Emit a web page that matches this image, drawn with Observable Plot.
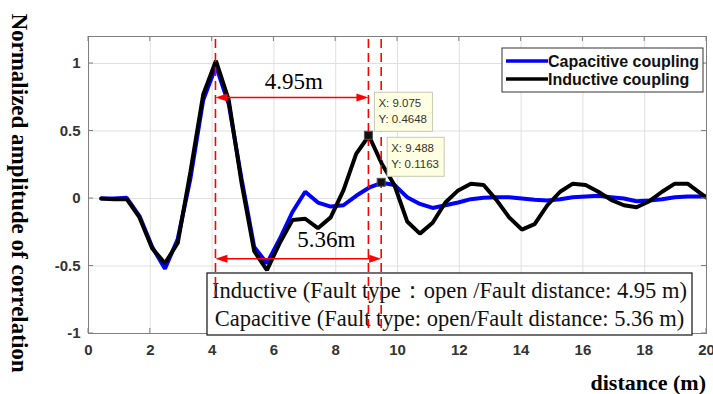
<!DOCTYPE html>
<html><head><meta charset="utf-8">
<script src="https://cdn.jsdelivr.net/npm/d3@7"></script>
<script src="https://cdn.jsdelivr.net/npm/@observablehq/plot@0.6"></script>
<style>html,body{margin:0;padding:0;background:#fff}svg{display:block}</style>
</head><body><div id="chart"></div>
<script>
// ---- data ----
const sampleStep = 0.4125; // sampling interval of the correlation (m)
const inductive = [0, -0.005, -0.005, -0.14, -0.37, -0.48, -0.33, 0.2, 0.77, 1.02, 0.73, 0.12, -0.39, -0.53, -0.33, -0.16, -0.15, -0.22, -0.14, 0.06, 0.33, 0.4648, 0.26, 0.1, -0.17, -0.26, -0.18, -0.03, 0.06, 0.11, 0.1, -0.01, -0.14, -0.23, -0.19, -0.05, 0.05, 0.11, 0.1, 0.05, -0.01, -0.05, -0.065, -0.02, 0.05, 0.11, 0.11, 0.04, -0.03];
const capacitive = [0, 0, 0.005, -0.13, -0.36, -0.52, -0.3, 0.15, 0.73, 0.98, 0.7, 0.15, -0.36, -0.48, -0.3, -0.1, 0.05, -0.03, -0.06, -0.05, 0.02, 0.08, 0.1163, 0.1, 0.01, -0.04, -0.07, -0.05, -0.03, -0.005, 0.005, 0.01, 0.01, 0, -0.01, -0.015, -0.005, 0.01, 0.015, 0.02, 0.01, 0, -0.02, -0.015, -0.005, 0.01, 0.015, 0.015, 0.015];
const seriesNames = ["Capacitive coupling", "Inductive coupling"];
const seriesColors = ["#0000ff", "#000000"];
const xTicks = [0, 2, 4, 6, 8, 10, 12, 14, 16, 18, 20];
const yTicks = [-1, -0.5, 0, 0.5, 1];
const yTickLabels = ["-1", "-0.5", "0", "0.5", "1"];
const refPeakX = 4.125;
const dataTipX = [9.075, 9.488];
const dataTipY = [0.4648, 0.1163];
const faultDistanceLabels = ["4.95m", "5.36m"];
const infoLines = ["Inductive (Fault type\uFF1Aopen /Fault distance: 4.95 m)", "Capacitive (Fault type: open/Fault distance: 5.36 m)"];
const xLabel = "distance (m)";
const yLabel = "Normalized amplitude of correlation";

// ---- build ----
const W = 713, H = 394;
const rows = [];
capacitive.forEach((v, i) => rows.push({s: seriesNames[0], x: (i + 1) * sampleStep, y: v}));
inductive.forEach((v, i) => rows.push({s: seriesNames[1], x: (i + 1) * sampleStep, y: v}));
const tips = dataTipX.map((x, i) => ({x, y: dataTipY[i]}));

const chart = Plot.plot({
  width: W, height: H,
  marginLeft: 88, marginRight: 7, marginTop: 36, marginBottom: 61,
  style: {background: "white", fontFamily: "'Liberation Sans', Arial, sans-serif"},
  x: {type: "linear", domain: [0, 20], label: null},
  y: {type: "linear", domain: [-1, 1.2], label: null},
  color: {domain: seriesNames, range: seriesColors},
  marks: [
    Plot.gridX(xTicks, {stroke: "#e0e0e0", strokeOpacity: 1}),
    Plot.gridY(yTicks, {stroke: "#e0e0e0", strokeOpacity: 1}),
    Plot.axisX(xTicks, {tickSize: 0, tickPadding: 11, fontSize: 15, fontWeight: "bold", fill: "#333", tickFormat: d => String(d), label: null}),
    Plot.axisY(yTicks, {tickSize: 0, tickPadding: 8, fontSize: 15, fontWeight: "bold", fill: "#333", tickFormat: (d, i) => yTickLabels[i], label: null}),
    Plot.line(rows.filter(r => r.s === seriesNames[0]), {x: "x", y: "y", stroke: "s", strokeWidth: 4, clip: true, strokeLinejoin: "miter"}),
    Plot.line(rows.filter(r => r.s === seriesNames[1]), {x: "x", y: "y", stroke: "s", strokeWidth: 4, clip: true, strokeLinejoin: "miter"}),
    Plot.frame({stroke: "#808080"})
  ]
});
document.getElementById("chart").appendChild(chart);

const svg = d3.select(chart);
const xs = chart.scale("x").apply, ys = chart.scale("y").apply;
const x0 = xs(0), x1 = xs(20), yb = ys(-1), yt = ys(1.2);
const g = svg.append("g").attr("text-anchor", "start").attr("font-size", 12);
const serif = "'Liberation Serif', 'Times New Roman', serif";
const sans = "'Liberation Sans', Arial, sans-serif";
const red = "#ff0000";

// inward ticks all sides
xTicks.forEach(t => {
  g.append("line").attr("x1", xs(t)).attr("x2", xs(t)).attr("y1", yb).attr("y2", yb - 5).attr("stroke", "#808080");
  g.append("line").attr("x1", xs(t)).attr("x2", xs(t)).attr("y1", yt).attr("y2", yt + 5).attr("stroke", "#808080");
});
yTicks.forEach(t => {
  g.append("line").attr("x1", x0).attr("x2", x0 + 5).attr("y1", ys(t)).attr("y2", ys(t)).attr("stroke", "#808080");
  g.append("line").attr("x1", x1).attr("x2", x1 - 5).attr("y1", ys(t)).attr("y2", ys(t)).attr("stroke", "#808080");
});

// info box
g.append("rect").attr("x", 207).attr("y", 273).attr("width", 485).attr("height", 62).attr("fill", "white").attr("stroke", "#111").attr("stroke-width", 1.2);
infoLines.forEach((t, i) => {
  g.append("text").attr("x", 449.5).attr("y", 298 + i * 28).attr("text-anchor", "middle")
    .attr("font-family", serif).attr("font-size", 22.5).attr("fill", "#111").text(t);
});

// red dashed reference lines
const dash = (x, yEnd) => g.append("line").attr("x1", xs(x)).attr("x2", xs(x)).attr("y1", yt + 3).attr("y2", yEnd)
  .attr("stroke", red).attr("stroke-width", 1.6).attr("stroke-dasharray", "9,5");
dash(refPeakX, ys(-0.72));
dash(dataTipX[0], yb);
dash(dataTipX[1], yb);

// double arrows
function arrow(xa, xb, y) {
  const pa = xs(xa), pb = xs(xb), py = ys(y);
  g.append("line").attr("x1", pa + 8).attr("x2", pb - 8).attr("y1", py).attr("y2", py).attr("stroke", red).attr("stroke-width", 1.6);
  g.append("path").attr("d", `M${pa},${py}L${pa + 12},${py - 4}L${pa + 12},${py + 4}Z`).attr("fill", red);
  g.append("path").attr("d", `M${pb},${py}L${pb - 12},${py - 4}L${pb - 12},${py + 4}Z`).attr("fill", red);
}
arrow(refPeakX, dataTipX[0], 0.745);
arrow(refPeakX, dataTipX[1], -0.45);
g.append("text").attr("x", (xs(refPeakX) + xs(dataTipX[0])) / 2 + 2).attr("y", ys(0.745) - 8)
  .attr("text-anchor", "middle").attr("font-family", serif).attr("font-size", 23).text(faultDistanceLabels[0]);
g.append("text").attr("x", (xs(refPeakX) + xs(dataTipX[1])) / 2 + 28).attr("y", ys(-0.45) - 12)
  .attr("text-anchor", "middle").attr("font-family", serif).attr("font-size", 23).text(faultDistanceLabels[1]);

// data tips
tips.forEach((d, i) => {
  const px = xs(d.x), py = ys(d.y);
  const bx = px + 6, by = py - (i === 0 ? 43 : 45);
  g.append("rect").attr("x", bx).attr("y", by).attr("width", i === 0 ? 58 : 57).attr("height", 39)
    .attr("fill", "#ffffe1").attr("stroke", "#c8c8b4").attr("stroke-width", 1);
  g.append("text").attr("x", bx + 4).attr("y", by + 15).attr("font-size", 11.5).attr("fill", "#333")
    .attr("font-family", sans).text("X: " + d.x);
  g.append("text").attr("x", bx + 4).attr("y", by + 31).attr("font-size", 11.5).attr("fill", "#333")
    .attr("font-family", sans).text("Y: " + d.y);
  g.append("rect").attr("x", px - 4).attr("y", py - 4).attr("width", 8).attr("height", 8)
    .attr("fill", "#111").attr("stroke", "#555");
});

// legend
const lg = g.append("g");
lg.append("rect").attr("x", 502).attr("y", 48).attr("width", 201).attr("height", 44).attr("fill", "white").attr("stroke", "#333");
seriesNames.forEach((n, i) => {
  const yy = 61 + i * 18;
  lg.append("line").attr("x1", 506).attr("x2", 548).attr("y1", yy).attr("y2", yy).attr("stroke", seriesColors[i]).attr("stroke-width", 3.5);
  lg.append("text").attr("x", 548).attr("y", yy + 6).attr("font-size", 16).attr("font-weight", "bold")
    .attr("font-family", sans).attr("fill", "#111").text(n);
});

// axis titles
g.append("text").attr("x", 706).attr("y", 390).attr("text-anchor", "end").attr("font-family", serif)
  .attr("font-weight", "bold").attr("font-size", 22).text(xLabel);
g.append("text").attr("transform", "translate(12,193) rotate(90)").attr("text-anchor", "middle").attr("font-family", serif)
  .attr("font-weight", "bold").attr("font-size", 23).text(yLabel);
</script>
</body></html>
